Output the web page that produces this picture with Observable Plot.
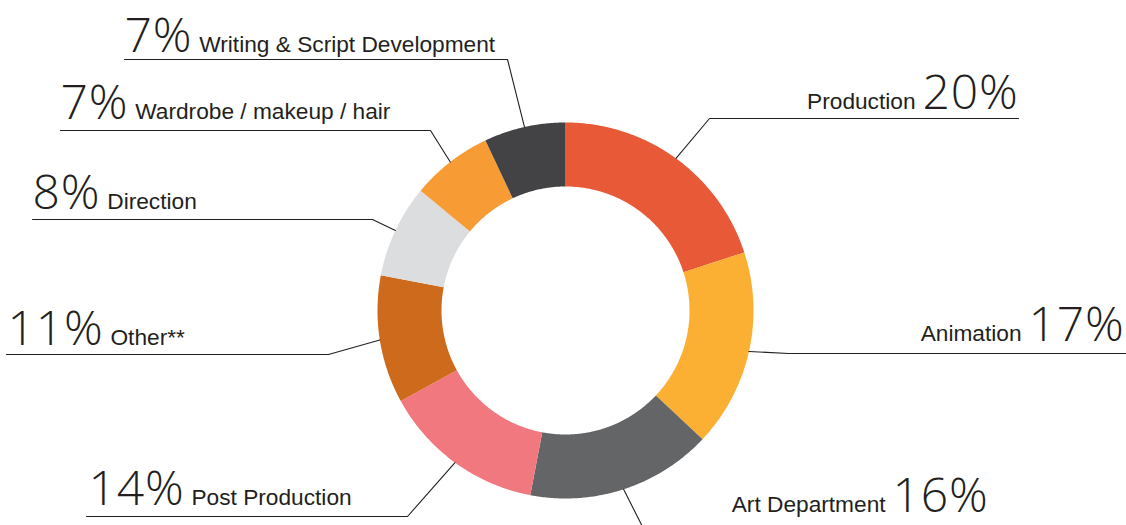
<!DOCTYPE html>
<html><head><meta charset="utf-8">
<script src="https://cdn.jsdelivr.net/npm/d3@7"></script>
<script src="https://cdn.jsdelivr.net/npm/@observablehq/plot@0.6"></script>
<style>
html,body{margin:0;padding:0;background:#fff;overflow:hidden}
</style></head><body><div id="chart"></div>
<script>
// ---- data ----
const categories = ["Production","Animation","Art Department","Post Production","Other**","Direction","Wardrobe / makeup / hair","Writing & Script Development"];
const shares = [20,17,16,14,11,8,7,7];
const colors = ["#E85937","#FBB034","#646567","#F27880","#CE6A1B","#DCDDDE","#F79B35","#434244"];
const labelSide = ["right","right","right","left","left","left","left","left"];

// ---- layout ----
const cx = 565, cy = 310, outerR = 188, innerR = 124;
const elbowX = [709,788,649,407,328,372,430,507];
const elbowY = [118,353,540,516,354,219,130,59];
const lineEndX = [1018,1126,988,86,6,32,60,124];
const textX = [1018,1124,988,88,7,32,60,124];
const textY = [108,340,511,504,344,208,118,51];

const total = d3.sum(shares);
const pt = (a, r) => ({x: cx + r * Math.sin(a), y: cy - r * Math.cos(a)});

let acc = 0;
const slices = categories.map((name, i) => {
  const a0 = acc / total * 2 * Math.PI;
  acc += shares[i];
  const a1 = acc / total * 2 * Math.PI;
  return {name, i, a0, a1, mid: (a0 + a1) / 2};
});

const arcPts = [];
for (const s of slices) {
  const n = Math.max(8, Math.ceil((s.a1 - s.a0) * 180 / Math.PI * 2));
  for (let k = 0; k <= n; k++) { const a = s.a0 + (s.a1 - s.a0) * k / n; arcPts.push({name: s.name, ...pt(a, outerR)}); }
  for (let k = n; k >= 0; k--) { const a = s.a0 + (s.a1 - s.a0) * k / n; arcPts.push({name: s.name, ...pt(a, innerR)}); }
}

const leaderPts = [];
for (const s of slices) {
  const p = pt(s.mid, outerR);
  leaderPts.push({name: s.name, x: p.x, y: p.y});
  leaderPts.push({name: s.name, x: elbowX[s.i], y: elbowY[s.i]});
  leaderPts.push({name: s.name, x: lineEndX[s.i], y: elbowY[s.i]});
}

const labels = slices.map(s => ({name: s.name, pct: shares[s.i] + "%", side: labelSide[s.i], x: textX[s.i], y: textY[s.i]}));

const svg = Plot.plot({
  width: 1126, height: 525, margin: 0,
  x: {domain: [0, 1126], range: [0, 1126], axis: null},
  y: {domain: [0, 525], range: [0, 525], axis: null},
  color: {domain: categories, range: colors},
  style: {background: "white"},
  marks: [
    Plot.line(arcPts, {x: "x", y: "y", z: "name", fill: "name", stroke: null, curve: "linear-closed"}),
    Plot.line(leaderPts, {x: "x", y: "y", z: "name", stroke: "#231f20", strokeWidth: 1.1, clip: true}),
    Plot.text(labels.filter(d => d.side === "right"), {x: "x", y: "y", text: d => d.name + "|" + d.pct, textAnchor: "end", lineAnchor: "bottom", fill: "#231f20"}),
    Plot.text(labels.filter(d => d.side === "left"), {x: "x", y: "y", text: d => d.pct + "|" + d.name, textAnchor: "start", lineAnchor: "bottom", fill: "#231f20"})
  ]
});

d3.select(svg).selectAll("g[aria-label=text] text").each(function() {
  const parts = this.textContent.split("|");
  const t = d3.select(this);
  t.text(null);
  parts.forEach((part, i) => {
    const isPct = /%$/.test(part);
    const ts = t.append("tspan").text(part);
    if (i) ts.attr("dx", 7);
    if (isPct) ts.attr("font-size", 48).attr("font-family", "'Open Sans', Roboto, 'Liberation Sans', sans-serif").attr("font-weight", 300).attr("letter-spacing", 0.8);
    else ts.attr("font-size", 22.7).attr("font-family", "'Liberation Sans', Arial, sans-serif");
  });
});

document.getElementById("chart").appendChild(svg);
</script></body></html>
